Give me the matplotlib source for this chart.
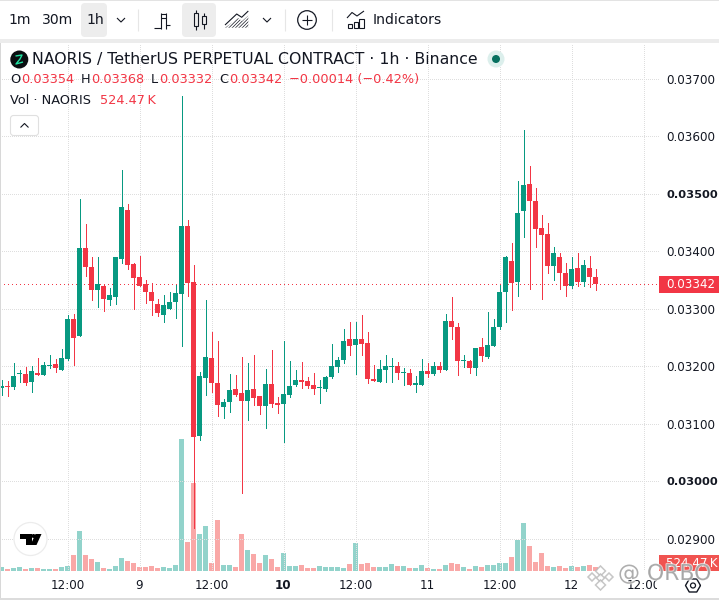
import numpy as np
import matplotlib
matplotlib.use('Agg')
import matplotlib.pyplot as plt
from matplotlib.patches import Circle, FancyBboxPatch, Polygon, Rectangle
from matplotlib.transforms import Bbox, IdentityTransform, TransformedBbox
import matplotlib.patheffects as pe

# prices are in 1e-5 USDT, 100 hourly candles
opens = [3161,3165,3163,3186,3186,3172,3187,3184,3200,3203,
         3193,3212,3281,3253,3405,3373,3332,3339,3314,3320,
         3386,3471,3377,3354,3342,3328,3307,3288,3299,3311,
         3325,3443,3346,3078,3179,3214,3170,3128,3137,3160,
         3153,3140,3160,3147,3130,3168,3135,3134,3149,3167,
         3175,3174,3167,3161,3160,3181,3198,3210,3247,3236,
         3247,3240,3177,3172,3193,3198,3200,3187,3187,3167,
         3167,3191,3186,3200,3193,3278,3267,3208,3208,3196,
         3233,3215,3235,3267,3328,3382,3346,3469,3516,3487,
         3440,3429,3374,3389,3361,3339,3370,3346,3370,3354]
highs = [3175,3174,3205,3193,3198,3200,3214,3207,3220,3212,
         3229,3288,3290,3490,3447,3389,3389,3341,3335,3389,
         3541,3481,3379,3391,3349,3344,3316,3323,3328,3341,
         3669,3454,3375,3189,3314,3259,3243,3142,3186,3184,
         3215,3205,3219,3147,3194,3228,3146,3243,3208,3193,
         3207,3181,3188,3175,3182,3238,3215,3264,3276,3276,
         3288,3260,3201,3210,3219,3214,3207,3196,3194,3182,
         3212,3205,3207,3207,3290,3320,3274,3220,3210,3231,
         3248,3294,3281,3341,3391,3414,3521,3610,3547,3509,
         3462,3448,3407,3396,3380,3389,3396,3384,3391,3368]
lows = [3149,3147,3160,3172,3167,3154,3184,3184,3196,3189,
        3193,3210,3201,3252,3356,3314,3302,3295,3306,3307,
        3379,3368,3300,3340,3309,3288,3287,3276,3299,3283,
        3234,3321,2918,3071,3149,3154,3113,3109,3120,3147,
        2980,3106,3132,3116,3092,3128,3118,3067,3146,3165,
        3161,3161,3151,3135,3156,3180,3189,3205,3219,3186,
        3219,3170,3174,3172,3172,3172,3177,3167,3167,3154,
        3167,3181,3184,3189,3193,3247,3184,3198,3187,3184,
        3208,3214,3234,3264,3276,3297,3321,3424,3334,3407,
        3316,3361,3349,3334,3321,3336,3340,3339,3337,3332]
closes = [3165,3163,3182,3188,3170,3191,3184,3201,3201,3196,
          3214,3281,3248,3405,3373,3333,3342,3316,3323,3389,
          3476,3375,3353,3340,3328,3313,3292,3306,3311,3327,
          3443,3344,3076,3182,3215,3170,3132,3137,3158,3149,
          3139,3158,3144,3130,3168,3134,3132,3151,3165,3175,
          3172,3165,3160,3163,3181,3200,3210,3243,3234,3247,
          3238,3177,3174,3194,3200,3200,3187,3189,3167,3170,
          3191,3186,3200,3193,3278,3267,3208,3210,3196,3231,
          3217,3236,3267,3328,3389,3344,3466,3514,3487,3438,
          3427,3374,3396,3361,3340,3368,3346,3375,3354,3342]
# volume in thousands
volumes = [524,262,393,524,262,393,393,262,262,262,
           524,655,2096,5240,2096,1572,1179,393,262,655,
           1703,1310,1048,524,524,655,393,524,393,786,
           17292,3799,11528,4847,5895,1048,6681,786,786,524,
           4847,2751,2227,1048,2096,1572,524,2358,655,655,
           786,393,393,655,524,524,524,393,917,3668,
           917,1048,524,524,524,917,655,655,393,393,
           786,393,262,262,786,1048,917,524,262,655,
           524,786,786,1048,1048,1834,4061,6288,3275,1179,
           2358,655,524,655,393,655,524,655,786,524.47]

price_ticks = [0.029, 0.030, 0.031, 0.032, 0.033, 0.034, 0.035, 0.036, 0.037]
bold_prices = [0.030, 0.035]
time_pos = [11, 23, 35, 47, 59, 71, 83, 95, 107]
time_labels = ['12:00', '9', '12:00', '10', '12:00', '11', '12:00', '12', '12:00']

GREEN = '#089981'
RED = '#F23645'
INK = '#131722'
W, H = 719, 600
PLOT_R, PLOT_T, PLOT_B = 659, 43, 571

plt.rcParams['hatch.linewidth'] = 0.5

o = np.array(opens) / 1e5
h = np.array(highs) / 1e5
l = np.array(lows) / 1e5
c = np.array(closes) / 1e5
v = np.array(volumes)
x = np.arange(len(o))
up = c >= o

fig = plt.figure(figsize=(W / 100, H / 100), dpi=100)
rect = [0, (H - PLOT_B) / H, PLOT_R / W, (PLOT_B - PLOT_T) / H]

# volume goes under the candles, 131K per pixel
vol_ax = fig.add_axes(rect)
vol_ax.axis('off')
vol_ax.bar(x, v, width=5 / 6, color=np.where(up, '#92D3CB', '#F9A8A7'), linewidth=0)
vol_ax.set_xlim(-1.5 / 6, (PLOT_R - 1.5) / 6)
vol_ax.set_ylim(0, (PLOT_B - PLOT_T) * 131)
vol_ax.set_zorder(1)

ax = fig.add_axes(rect)
ax.set_zorder(2)
ax.patch.set_visible(False)
for s in ax.spines.values():
    s.set_visible(False)
ax.set_xlim(-1.5 / 6, (PLOT_R - 1.5) / 6)
ax.set_ylim(0.033 - (PLOT_B - 308.5) / 57500, 0.033 + (308.5 - PLOT_T) / 57500)
ax.yaxis.tick_right()
ax.set_yticks(price_ticks)
ax.set_yticklabels(['%.5f' % p for p in price_ticks])
ax.set_xticks(time_pos)
ax.set_xticklabels(time_labels)
ax.tick_params(axis='y', length=0, pad=5.5, labelsize=8.6, labelcolor=INK)
ax.tick_params(axis='x', length=0, pad=6, labelsize=8.6, labelcolor=INK)
ax.grid(True, color='#dedede', lw=0.72, linestyle=(0, (1, 2)), antialiased=False)
ax.set_axisbelow(True)
for lab, p in zip(ax.get_yticklabels(), price_ticks):
    if p in bold_prices:
        lab.set_fontweight('bold')
        lab.set_fontsize(8.2)
for lab, t in zip(ax.get_xticklabels(), time_labels):
    if t == '10':
        lab.set_fontweight('bold')
# last 12:00 is cut off by the price scale
clip = TransformedBbox(Bbox([[0, 0], [657, H]]), IdentityTransform())
last_lab = ax.get_xticklabels()[-1]
last_lab.set_clip_box(clip)
last_lab.set_clip_on(True)

ax.axhline(c[-1], color=RED, lw=0.72, linestyle=(0, (1, 3)), zorder=1.5, antialiased=False)
colors = np.where(up, GREEN, RED)
ax.vlines(x, l, h, colors=colors, lw=0.72, zorder=3, antialiased=False)
body = np.maximum(np.abs(c - o), 0.00002)
ax.bar(x, body, bottom=np.minimum(o, c), width=5 / 6, color=colors, linewidth=0, zorder=3)

# everything else is chrome, drawn in pixel coordinates
ui = fig.add_axes([0, 0, 1, 1])
ui.set_xlim(0, W)
ui.set_ylim(H, 0)
ui.axis('off')
ui.set_zorder(5)


def txt(px, py, s, size=10.08, color=INK, **kw):
    return ui.text(px, py, s, fontsize=size, color=color, va='center', **kw)


def line(xs, ys, color=INK, lw=0.8):
    ui.plot(xs, ys, color=color, lw=lw, solid_capstyle='butt')


def chevron(cx, cy, flip=1):
    line([cx - 4, cx, cx + 4], [cy - 2 * flip, cy + 2 * flip, cy - 2 * flip], lw=0.8)


# toolbar
ui.add_patch(Rectangle((0, 0), W, 1, color='#e3e3e3', lw=0))
ui.add_patch(Rectangle((0, 39), W, 4, color='#ececec', lw=0))
ui.add_patch(Rectangle((0, 43), 1, H - 43, color='#d8d8d8', lw=0))
ui.add_patch(Rectangle((0, 598), W, 2, color='#dcdcdc', lw=0))
for bx, bw in [(81, 26), (182, 34)]:
    ui.add_patch(FancyBboxPatch((bx + 3, 6), bw - 6, 28, boxstyle='round,pad=3,rounding_size=4',
                                fc='#ededed', ec='none'))
txt(8, 20, '1m')
txt(42, 20, '30m')
txt(86, 20, '1h')
chevron(121, 20)
chevron(267, 20)
for sx in [137.5, 284.5, 331.5]:
    line([sx, sx], [9, 31], color='#e6e6e6')
# bars icon
line([160.5, 160.5], [12.5, 28.5])
line([154, 160.5], [28, 28])
line([160.5, 166], [13.5, 13.5])
line([165.5, 165.5], [12.5, 28.5])
line([161, 165.5], [17.5, 17.5])
line([165.5, 170], [25, 25])
# candles icon
ui.add_patch(Rectangle((193.5, 13), 4.5, 13, fc='none', ec=INK, lw=0.8))
line([195.7, 195.7], [10, 13])
line([195.7, 195.7], [26, 29.5])
ui.add_patch(Rectangle((201.5, 16), 4.5, 8, fc='none', ec=INK, lw=0.8))
line([203.7, 203.7], [12.5, 16])
line([203.7, 203.7], [24, 28.5])
# area icon
ui.add_patch(Polygon([(225, 27.7), (238, 18), (242, 21), (248.3, 15.5), (248.3, 27.7)],
                     fc='none', ec=INK, lw=0, hatch='//////////'))
line([225, 236.7, 241.7, 248.3], [25, 14, 17.3, 11])
# add button
ui.add_patch(Circle((307, 20), 9.3, fc='none', ec=INK, lw=0.9))
line([302, 312], [20, 20])
line([307, 307], [15, 25])
# indicators icon
for bx, by, bh in [(347.5, 24, 4), (353.5, 21.5, 6.5), (359, 18.5, 9.5)]:
    ui.add_patch(Rectangle((bx, by), 4.8, bh, fc='none', ec=INK, lw=0.8))
line([347, 352, 357, 364], [18, 12.5, 16, 11])
txt(373, 20, 'Indicators')

# legend
ui.add_patch(Circle((19.3, 59.5), 9, fc='#0b0e11', ec='none'))
line([15.5, 22, 20, 16, 23], [56, 55, 59, 64, 62], color='#20e0a0', lw=1)
txt(32.5, 59.5, 'NAORIS / TetherUS PERPETUAL CONTRACT · 1h · Binance', size=11.3)
ui.add_patch(Circle((496, 59), 8.5, fc='#DCEFEC', ec='none'))
ui.add_patch(Circle((496, 59), 4, fc='#06705F', ec='none'))

OHLC_SIZE = 9.3
for lx, name, vx, val in [(10, 'O', 21, o[-1]), (80.5, 'H', 91, h[-1]),
                          (151, 'L', 159, l[-1]), (219, 'C', 229.5, c[-1])]:
    txt(lx, 79.5, name, size=OHLC_SIZE)
    txt(vx, 79.5, '%.5f' % val, size=OHLC_SIZE, color=RED)
txt(289, 79.5, '\u22120.00014 (\u22120.42%)', size=OHLC_SIZE, color=RED)
txt(10, 100.5, 'Vol · NAORIS', size=OHLC_SIZE)
txt(100, 100.5, '%.2f\u2009K' % v[-1], size=OHLC_SIZE, color=RED)
ui.add_patch(FancyBboxPatch((13, 118), 23, 15, boxstyle='round,pad=2.5,rounding_size=3',
                            fc='white', ec='#e0e0e0', lw=0.8))
chevron(24.5, 125.5, flip=-1)

# price scale labels
ui.add_patch(Rectangle((PLOT_R, 276), W - PLOT_R, 16.7, color=RED, lw=0))
txt(666.7, 284.5, '%.5f' % c[-1], size=8.6, color='white')
ui.add_patch(Rectangle((PLOT_R, 555), W - PLOT_R, 16, color='#F05350', lw=0))
txt(665.5, 563.5, '%.2f\u2009K' % v[-1], size=8.6, color='white')

# settings hexagon
ang = np.radians(np.arange(0, 361, 60))
line(693 + 7.5 * np.cos(ang), 585.5 + 7.5 * np.sin(ang), lw=1)
ui.add_patch(Circle((693, 585.5), 2.5, fc='none', ec=INK, lw=0.9))

# tradingview badge
ui.add_patch(Circle((30.5, 539), 16.5, fc='white', ec='#ececec', lw=0.9))
ui.add_patch(Polygon([(20, 534), (32, 534), (32, 545), (26, 545), (26, 539), (20, 539)], fc='black', ec='none'))
ui.add_patch(Circle((33.5, 536), 2, fc='black', ec='none'))
ui.add_patch(Polygon([(35.5, 534), (41.5, 534), (36.5, 545), (30.5, 545)], fc='black', ec='none'))

# watermark
ghost = dict(fc='#ffffff', ec='#b8b8b8', lw=1.1, alpha=0.8)
for dx, dy, r in [(600.5, 571, 5), (592, 577, 4), (609, 577, 4), (600.5, 578, 4), (600.5, 585, 5)]:
    ui.add_patch(Polygon([(dx - r, dy), (dx, dy - r), (dx + r, dy), (dx, dy + r)], **ghost))
txt(618, 574, '@ ORBO', size=15.8, color='#9a9a9a', alpha=0.75,
    path_effects=[pe.withStroke(linewidth=1.2, foreground='white', alpha=0.7)])

fig.savefig('out.png', dpi=100)
